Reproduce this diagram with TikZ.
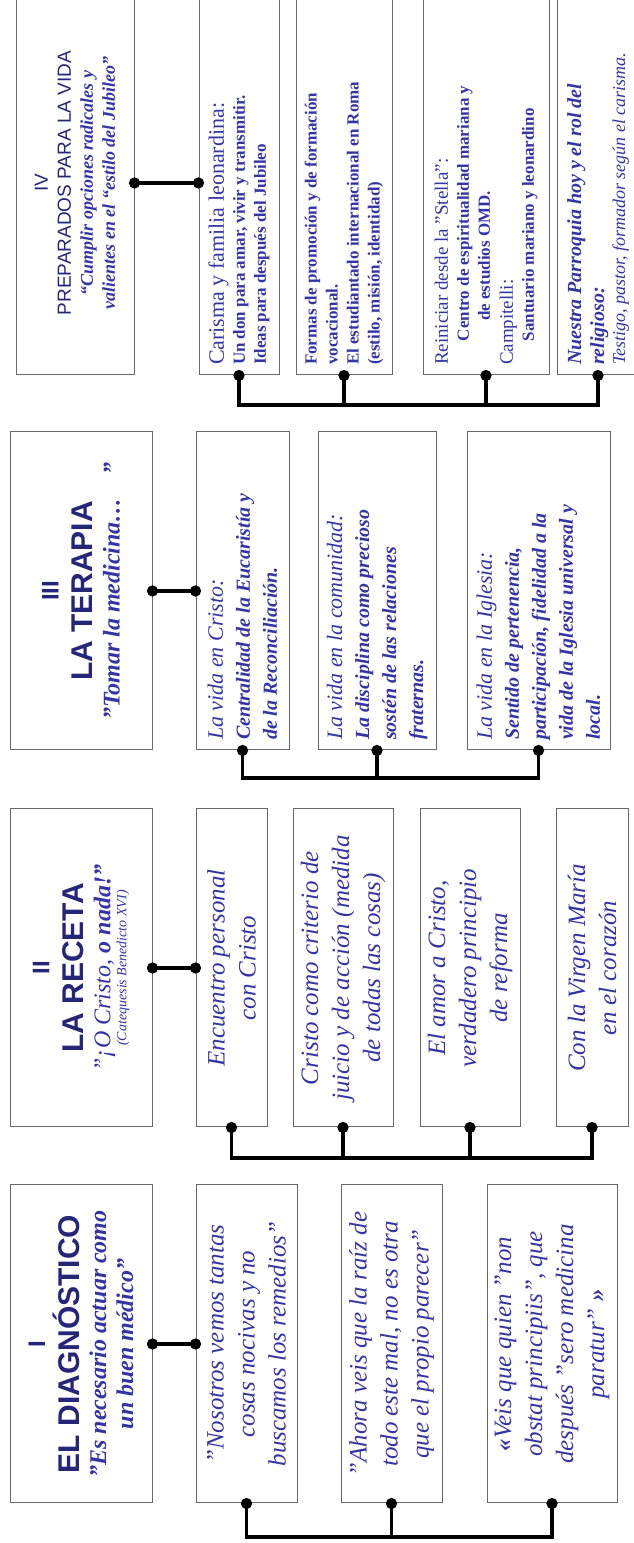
\documentclass[tikz,border=0pt]{standalone}
\usepackage{fontspec}
\setmainfont{Liberation Serif}
\setsansfont{Liberation Sans}
\usetikzlibrary{arrows.meta}
\definecolor{headcolor}{RGB}{38,38,120}
\definecolor{itemcolor}{RGB}{52,52,165}
\definecolor{boxcolor}{RGB}{105,105,105}
\newcommand{\fixspace}{\spaceskip=\fontdimen2\font\relax\xspaceskip=\fontdimen2\font\relax}
\newcommand{\romnum}{\fontsize{24}{28}\selectfont\sffamily\bfseries\fixspace}
\newcommand{\maintitle}{\fontsize{30}{34}\selectfont\sffamily\bfseries\fixspace}
\newcommand{\mainquote}{\fontsize{24}{27}\selectfont\itshape\bfseries\color{itemcolor}\fixspace}
\newcommand{\itemtext}{\fontsize{25}{31}\selectfont\itshape\fixspace}
\newcommand{\itemhead}{\fontsize{22}{27}\selectfont\itshape\mdseries\fixspace}
\newcommand{\itembody}{\fontsize{20}{27}\selectfont\itshape\bfseries\fixspace}
\newcommand{\lastlead}{\fontsize{22}{25}\selectfont\upshape\fixspace}
\newcommand{\smallbody}{\fontsize{17}{21}\selectfont\upshape\bfseries\fixspace}

\begin{document}
\begin{tikzpicture}[
    x=1pt, y=1pt,
    rotate=90,
    transform shape,
    head/.style={draw=boxcolor, line width=1pt, text=headcolor, align=center, inner xsep=4pt, inner ysep=0pt, text width=310pt, minimum height=142pt, execute at begin node=\fixspace},
    item/.style={draw=boxcolor, line width=1pt, text=itemcolor, align=center, inner xsep=4pt, inner ysep=0pt, text width=310pt, font=\itemtext, execute at begin node=\fixspace},
    leftitem/.style={item, align=left, inner xsep=10pt, text width=298pt},
    link/.style={line width=3.5pt, {Circle[length=11pt]}-{Circle[length=11pt]}, shorten <=-5.5pt, shorten >=-5.5pt},
    stub/.style={line width=3.5pt, -{Circle[length=11pt]}, shorten >=-5.5pt}
]
    \useasboundingbox (0,-634) rectangle (1543,0);

    % I - El diagnostico
    \node[head] (h1) at (199,-81) {{\romnum I\par}{\maintitle EL DIAGNÓSTICO\par}{\mainquote ”Es necesario actuar como\\un buen médico”\par}};
    \node[item, minimum height=101pt] (d1) at (199,-246.5) {”Nosotros vemos tantas\\cosas nocivas y no\\buscamos los remedios”};
    \node[item, minimum height=101pt] (d2) at (199,-391.5) {”Ahora veis que la raíz de\\todo este mal, no es otra\\que el propio parecer”};
    \node[item, minimum height=130pt] (d3) at (199,-552) {{\bfseries«}Veis que quien ”non\\obstat principiis”, que\\después ”sero medicina\\paratur” {\bfseries»}};
    \coordinate (busI) at (6,0);
    \draw[link] (h1.south) -- (d1.north);
    \draw[link] (d1.west) -- (d1.west -| busI) |- (d3.west);
    \draw[stub] (d2.west -| busI) -- (d2.west);

    % II - La receta
    \node[head] (h2) at (575,-81) {{\romnum II\par}{\maintitle LA RECETA\par}{\mainquote\mdseries ”¡O Cristo, \bfseries o nada!”\par}{\fontsize{14}{16}\selectfont\itshape\color{itemcolor}\fixspace(Catequesis Benedicto XVI)\par}};
    \node[item, minimum height=71pt] (r1) at (575,-231.5) {Encuentro personal\\con Cristo};
    \node[item, minimum height=100pt] (r2) at (575,-343) {Cristo como criterio de\\juicio y de acción (medida\\de todas las cosas)};
    \node[item, minimum height=100pt] (r3) at (575,-470) {El amor a Cristo,\\verdadero principio\\de reforma};
    \node[item, minimum height=72pt] (r4) at (575,-592) {Con la Virgen María\\en el corazón};
    \coordinate (busII) at (385,0);
    \draw[link] (h2.south) -- (r1.north);
    \draw[link] (r1.west) -- (r1.west -| busII) |- (r4.west);
    \draw[stub] (r2.west -| busII) -- (r2.west);
    \draw[stub] (r3.west -| busII) -- (r3.west);

    % III - La terapia
    \node[head] (h3) at (952,-81) {{\romnum III\par}{\maintitle LA TERAPIA\par}{\mainquote ”Tomar la medicina…\quad”\par}};
    \node[leftitem, minimum height=93pt] (t1) at (952,-242.5) {{\itemhead La vida en Cristo:\par}{\itembody Centralidad de la Eucaristía y\\de la Reconciliación.\par}};
    \node[leftitem, minimum height=118pt] (t2) at (952,-377) {{\itemhead La vida en la comunidad:\par}{\itembody La disciplina como precioso\\sostén de las relaciones\\fraternas.\par}};
    \node[leftitem, minimum height=143pt] (t3) at (952,-538.5) {{\itemhead La vida en la Iglesia:\par}{\itembody Sentido de pertenencia,\\participación, fidelidad a la\\vida de la Iglesia universal y\\local.\par}};
    \coordinate (busIII) at (765,0);
    \draw[link] (h3.south) -- (t1.north);
    \draw[link] (t1.west) -- (t1.west -| busIII) |- (t3.west);
    \draw[stub] (t2.west -| busIII) -- (t2.west);

    % IV - Preparados para la vida
    \node[head, text width=376pt, minimum height=118pt] (h4) at (1360,-75) {{\fontsize{19}{22}\selectfont\sffamily\fixspace IV\par}{\fontsize{19}{23}\selectfont\sffamily\fixspace PREPARADOS PARA LA VIDA\par}{\fontsize{18}{22}\selectfont\itshape\bfseries\color{itemcolor}\fixspace“Cumplir opciones radicales y\\valientes en el “estilo del Jubileo”\par}};
    \node[leftitem, text width=364pt, minimum height=80pt] (p1) at (1360,-239) {{\lastlead Carisma y familia leonardina:\par}{\smallbody Un don para amar, vivir y transmitir.\\Ideas para después del Jubileo\par}};
    \node[leftitem, text width=364pt, minimum height=96pt] (p2) at (1360,-344) {{\smallbody Formas de promoción y de formación\\vocacional.\\El estudiantado internacional en Roma\\(estilo, misión, identidad)\par}};
    \node[leftitem, text width=364pt, minimum height=126pt] (p3) at (1360,-486) {{\fontsize{19}{23}\selectfont\upshape\fixspace Reiniciar desde la ”Stella”:\par}{\smallbody\hspace*{1.4em}Centro de espiritualidad mariana y\\\hspace*{2.6em}de estudios OMD.\par}{\fontsize{19}{23}\selectfont\upshape\fixspace Campitelli:\par}{\smallbody\hspace*{1.4em}Santuario mariano y leonardino\par}};
    \node[leftitem, text width=364pt, minimum height=82pt] (p4) at (1360,-598) {{\fontsize{20}{23}\selectfont\bfseries\fixspace Nuestra Parroquia hoy y el rol del\\religioso:\par}{\fontsize{18}{21}\selectfont\fixspace Testigo, pastor, formador según el carisma.\par}};
    \coordinate (busIV) at (1138,0);
    \draw[link] (h4.south) -- (p1.north);
    \draw[link] (p1.west) -- (p1.west -| busIV) |- (p4.west);
    \draw[stub] (p2.west -| busIV) -- (p2.west);
    \draw[stub] (p3.west -| busIV) -- (p3.west);
\end{tikzpicture}
\end{document}
